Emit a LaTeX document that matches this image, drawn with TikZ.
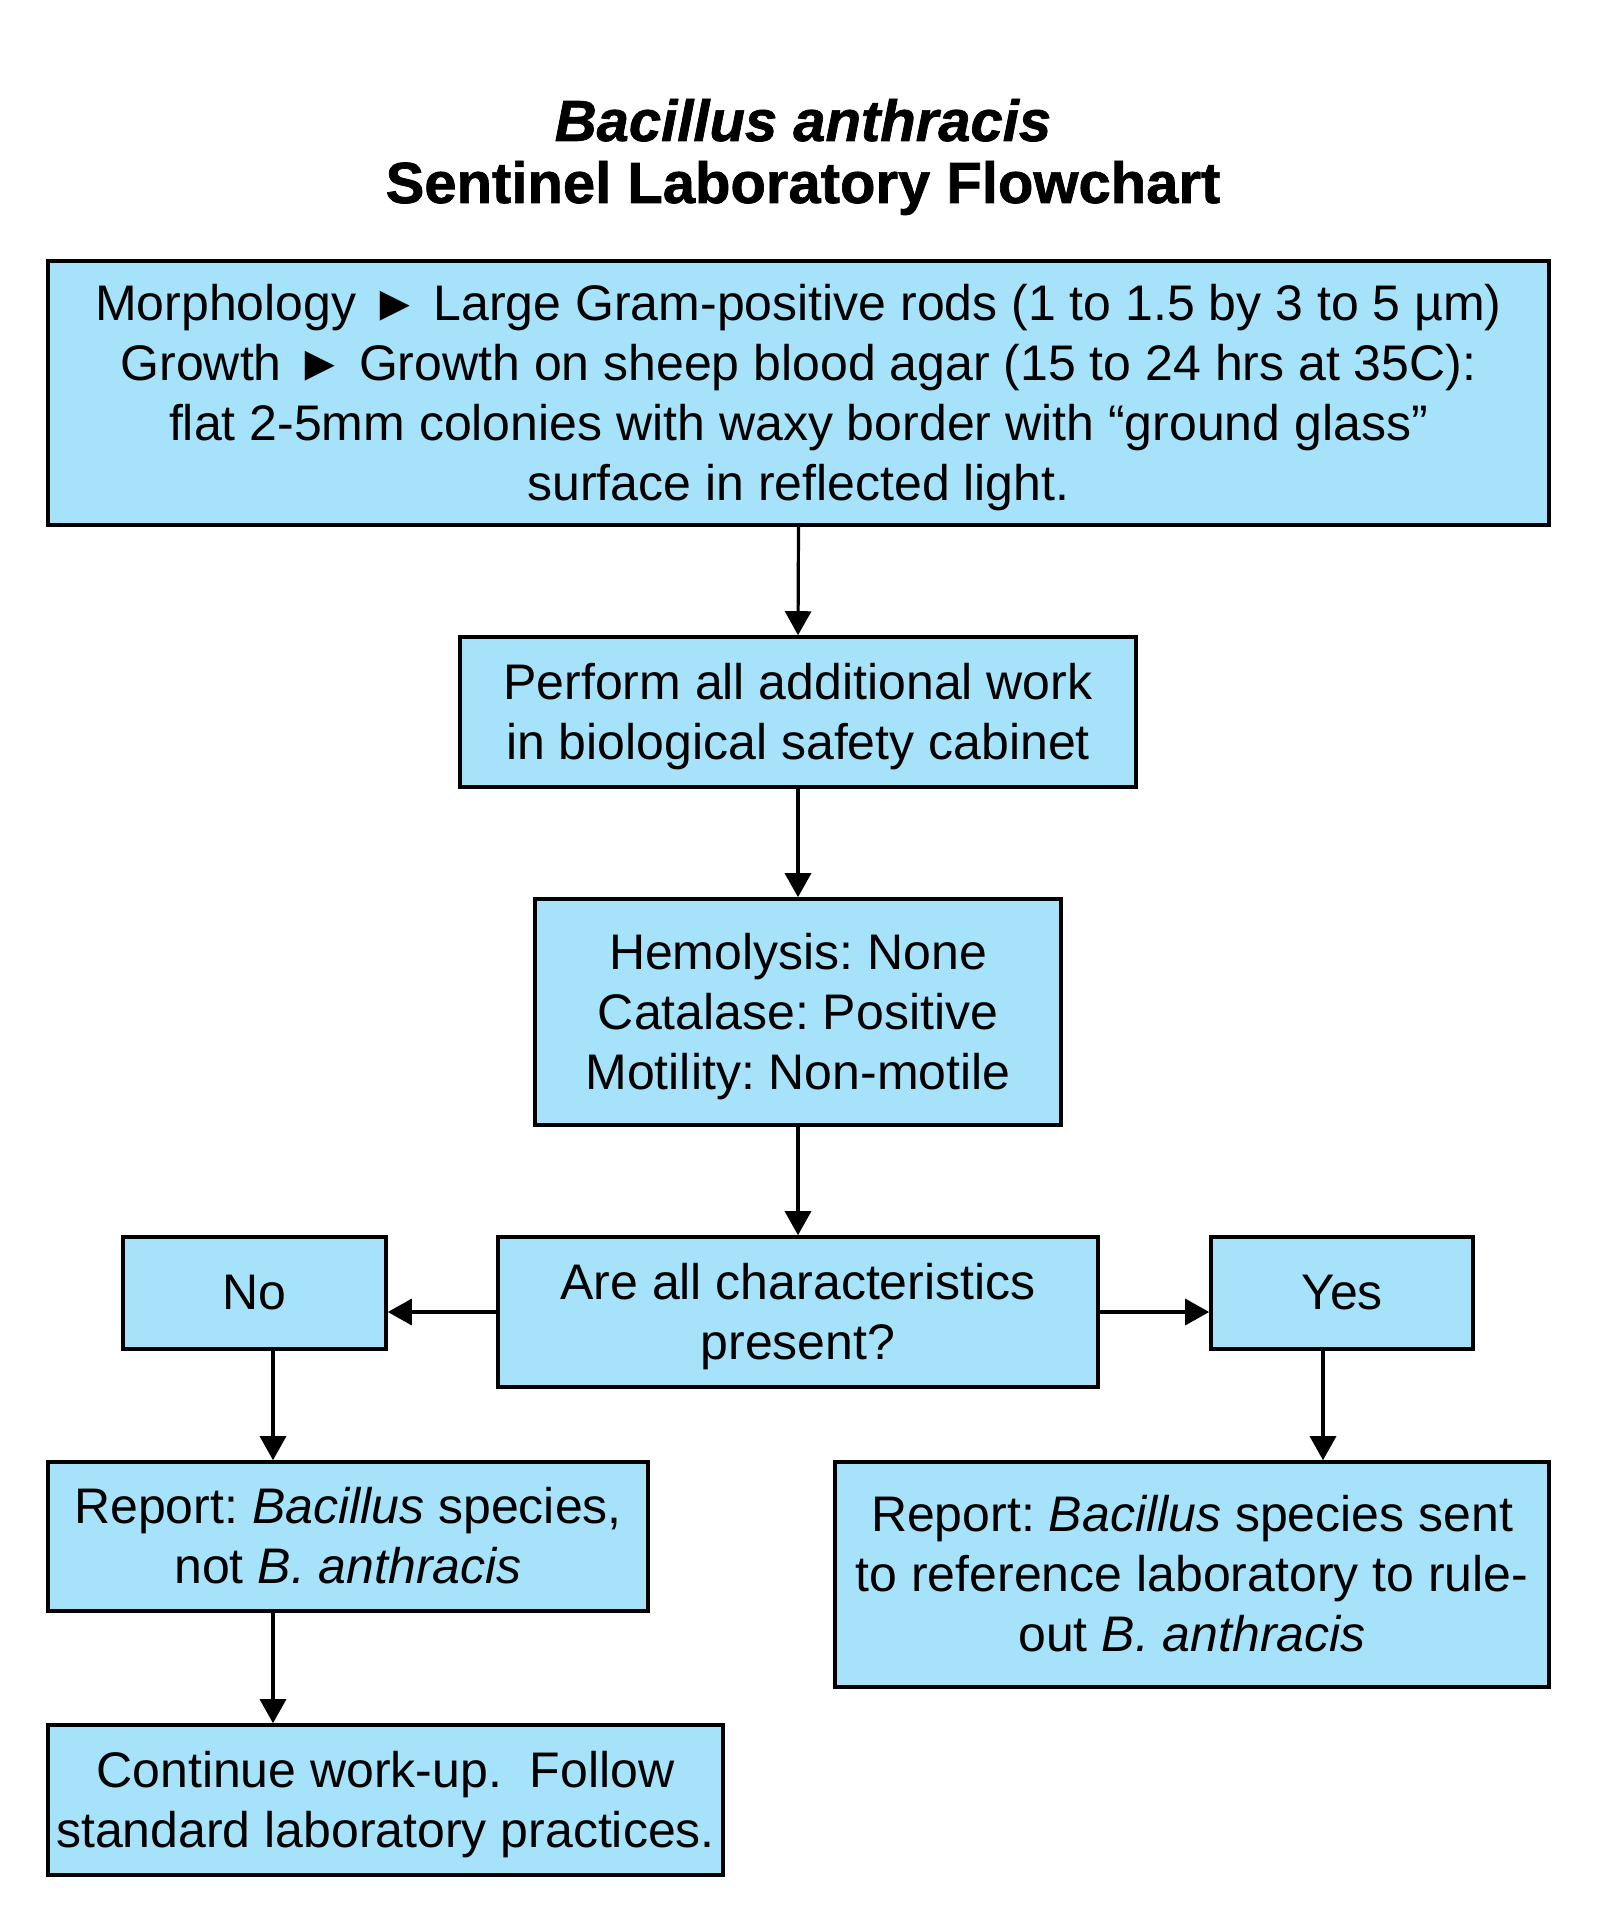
\documentclass[tikz,border=0pt]{standalone}
\usepackage{fontspec}
\setmainfont{Liberation Sans}
\usetikzlibrary{arrows.meta}
\definecolor{boxblue}{RGB}{166,226,250}
\newcommand{\tstr}{\rule{0pt}{22.5pt}}
\newcommand{\bstr}{\rule[-5.5pt]{0pt}{0pt}}
\begin{document}
\frenchspacing
\begin{tikzpicture}[x=0.5pt,y=-0.5pt,
  box/.style={draw=black, line width=1.8pt, fill=boxblue, inner sep=0pt, align=center,
    font=\fontsize{25pt}{30pt}\selectfont\frenchspacing},
  arr/.style={draw=black, line width=1.6pt, -{Triangle[length=12pt,width=13pt]}}]
\useasboundingbox (0,0) rectangle (1604,1932);
\node[align=center, font=\fontsize{29pt}{31pt}\selectfont\bfseries\addfontfeature{FakeBold=1.2}] (title) at (803,157)
  {\textit{Bacillus anthracis}\\Sentinel Laboratory Flowchart};
\node[box, minimum width=750.5pt, minimum height=132pt] (b1) at (798.5,393)
  {\tstr Morphology ► Large Gram-positive rods (1 to 1.5 by 3 to 5 µm)\\
   Growth ► Growth on sheep blood agar (15 to 24 hrs at 35C):\\
   flat 2-5mm colonies with waxy border with “ground glass”\\
   surface in reflected light.\bstr};
\node[box, minimum width=338pt, minimum height=75pt] (b2) at (798,712)
  {\tstr Perform all additional work\\in biological safety cabinet\bstr};
\node[box, minimum width=263pt, minimum height=113pt] (b3) at (798,1012)
  {\tstr Hemolysis: None\\Catalase: Positive\\Motility: Non-motile\bstr};
\node[box, minimum width=300pt, minimum height=75pt] (dec) at (798,1312)
  {\tstr Are all characteristics\\present?\bstr};
\node[box, minimum width=131.5pt, minimum height=56pt] (no) at (254.5,1293) {No};
\node[box, minimum width=131pt, minimum height=56pt] (yes) at (1342,1293) {Yes};
\node[box, minimum width=300pt, minimum height=74.5pt] (rno) at (348,1536.5)
  {\tstr Report: \textit{Bacillus} species,\\not \textit{B. anthracis}\bstr};
\node[box, minimum width=357pt, minimum height=112.5pt] (ryes) at (1192,1574.5)
  {\tstr Report: \textit{Bacillus} species sent\\to reference laboratory to rule-\\out \textit{B. anthracis}\bstr};
\node[box, minimum width=337.5pt, minimum height=75pt] (cont) at (385.5,1800)
  {\tstr Continue work-up.\ \ Follow\\standard laboratory practices.\bstr};
\coordinate (xno) at (273,0);
\coordinate (xyes) at (1323,0);
\draw[arr] (b1.south) -- (b2.north);
\draw[arr] (b2.south) -- (b3.north);
\draw[arr] (b3.south) -- (dec.north);
\draw[arr] (dec.west) -- (dec.west -| no.east);
\draw[arr] (dec.east) -- (dec.east -| yes.west);
\draw[arr] (no.south -| xno) -- (rno.north -| xno);
\draw[arr] (yes.south -| xyes) -- (ryes.north -| xyes);
\draw[arr] (rno.south -| xno) -- (cont.north -| xno);
\end{tikzpicture}
\end{document}
